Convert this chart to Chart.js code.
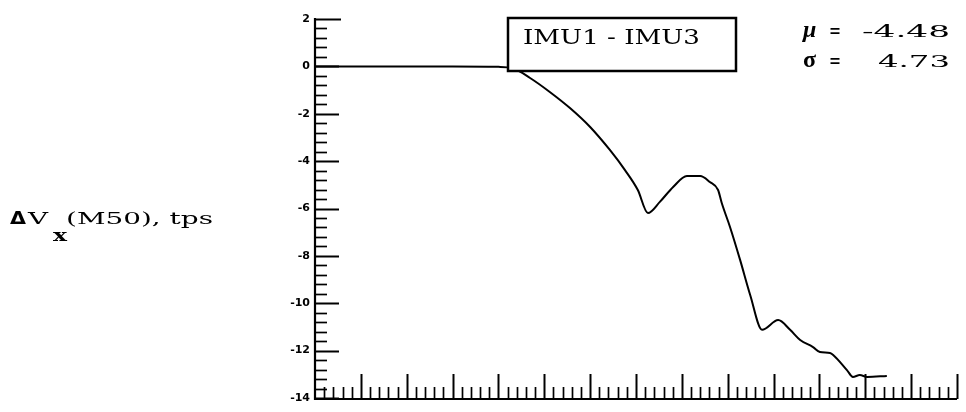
<!DOCTYPE html>
<html>
<head>
<meta charset="utf-8">
<script src="https://cdn.jsdelivr.net/npm/chart.js@4.4.0/dist/chart.umd.min.js"></script>
<style>
  html, body { margin: 0; padding: 0; background: #fff; overflow: hidden; }
  canvas { display: block; }
</style>
</head>
<body>
<canvas id="deltaChart" width="966" height="412"></canvas>
<script>
// values (x in major-tick units, y in fps)
const xValues = [0, 1, 2, 3, 4, 4.30, 4.69, 5.12, 5.56, 6.00, 6.43, 6.76, 7.04, 7.26,
    7.52, 7.81, 8.11, 8.40, 8.61, 8.79, 8.87, 9.05, 9.27, 9.49, 9.75, 10.10, 10.36, 10.58,
    10.86, 11.01, 11.23, 11.30, 11.60, 11.73, 11.88, 12.04, 12.47];
const yValues = [0, 0, 0, 0, -0.02, -0.07, -0.49, -1.08, -1.76, -2.56, -3.53, -4.38, -5.22, -6.19,
    -5.72, -5.09, -4.63, -4.63, -4.88, -5.22, -5.77, -6.78, -8.17, -9.65, -11.12, -10.71, -11.12, -11.55,
    -11.85, -12.06, -12.10, -12.18, -12.82, -13.11, -13.03, -13.11, -13.07];
const yTickValues = [2, 0, -2, -4, -6, -8, -10, -12, -14];
const seriesName = 'IMU1 - IMU3';
const statNames = ['\u03bc', '\u03c3'];
const statValues = ['-4.48', '4.73'];

const ctx = document.getElementById('deltaChart').getContext('2d');

function fitText(c, text, x, y, w) {
    const m = c.measureText(text).width;
    c.save();
    c.translate(x, y);
    c.scale(w / m, 1);
    c.fillText(text, 0, 0);
    c.restore();
}

const axesPlugin = {
    id: 'axesPlugin',
    beforeDatasetsDraw(chart) {
        const c = chart.ctx;
        const xs = chart.scales.x;
        const ys = chart.scales.y;
        const left = chart.chartArea.left;
        const bottom = chart.chartArea.bottom;
        c.save();
        c.strokeStyle = '#000';
        c.lineCap = 'butt';

        // axis lines
        c.lineWidth = 2.2;
        c.beginPath();
        c.moveTo(left, ys.getPixelForValue(2) - 1);
        c.lineTo(left, bottom + 1);
        c.lineTo(xs.getPixelForValue(14), bottom + 1);
        c.stroke();

        // y ticks, pointing inward
        for (let i = 0; i <= 40; i++) {
            const v = 2 - i * 0.4;
            const y = Math.round(ys.getPixelForValue(v)) + 0.5;
            const major = i % 5 === 0;
            const len = i === 0 ? 26 : (major ? 24 : 12);
            c.lineWidth = major ? 2 : 1.7;
            c.beginPath();
            c.moveTo(left, y);
            c.lineTo(left + len, y);
            c.stroke();
        }

        // x ticks, pointing up
        for (let i = 1; i <= 70; i++) {
            const v = i * 0.2;
            const x = Math.round(xs.getPixelForValue(v)) + 0.5;
            const major = i % 5 === 0;
            const len = major ? 24 : 11;
            c.lineWidth = major ? 2 : 1.7;
            c.beginPath();
            c.moveTo(x, bottom + 1);
            c.lineTo(x, bottom - len);
            c.stroke();
        }
        c.restore();
    },
    afterDraw(chart) {
        const c = chart.ctx;
        c.save();
        c.fillStyle = '#000';
        c.strokeStyle = '#000';

        // series box
        c.lineWidth = 2.5;
        c.fillStyle = '#fff';
        c.fillRect(508, 18, 228, 53);
        c.strokeRect(508, 18, 228, 53);
        c.fillStyle = '#000';
        c.textBaseline = 'alphabetic';
        c.font = '21px "DejaVu Serif"';
        fitText(c, seriesName, 523, 44, 177);

        // statistics
        c.font = 'bold italic 24px "Liberation Serif"';
        c.fillText(statNames[0], 803, 37);
        c.font = 'bold 24px "Liberation Serif"';
        c.fillText(statNames[1], 803, 67);
        c.font = '22px "DejaVu Serif"';
        fitText(c, '=', 829, 38, 12);
        fitText(c, '=', 829, 68, 12);
        c.font = '17px "DejaVu Serif"';
        fitText(c, statValues[0], 862, 37, 88);
        fitText(c, statValues[1], 878, 67, 72);

        // axis title
        c.font = 'bold 17px "DejaVu Sans"';
        fitText(c, '\u0394', 10, 224, 16);
        c.font = '17px "DejaVu Serif"';
        fitText(c, 'V', 28, 224, 20);
        c.font = 'bold 17px "DejaVu Serif"';
        fitText(c, 'x', 53, 241, 14);
        c.font = '17px "DejaVu Serif"';
        fitText(c, '(M50), tps', 66, 224, 147);
        c.restore();
    }
};

const chart = new Chart(ctx, {
    type: 'line',
    data: {
        datasets: [{
            label: seriesName,
            data: xValues.map((x, i) => ({ x: x, y: yValues[i] })),
            borderColor: '#000',
            borderWidth: 2,
            pointRadius: 0,
            fill: false,
            cubicInterpolationMode: 'monotone'
        }]
    },
    options: {
        responsive: false,
        devicePixelRatio: 1,
        animation: false,
        layout: { padding: { left: 275, top: 19, right: 9, bottom: 14 } },
        plugins: { legend: { display: false }, tooltip: { enabled: false } },
        scales: {
            x: {
                type: 'linear',
                min: 0,
                max: 14,
                grid: { display: false },
                border: { display: false },
                ticks: { display: false },
                afterFit: (s) => { s.height = 0; }
            },
            y: {
                type: 'linear',
                min: -14,
                max: 2,
                grid: { display: false, drawTicks: false },
                border: { display: false },
                afterBuildTicks: (s) => { s.ticks = yTickValues.map(v => ({ value: v })); },
                afterFit: (s) => { s.width = 40; },
                ticks: {
                    padding: 5,
                    color: '#000',
                    font: { family: 'DejaVu Sans', size: 11, weight: 'bold' },
                    callback: (v) => String(v)
                }
            }
        }
    },
    plugins: [axesPlugin]
});
</script>
</body>
</html>
